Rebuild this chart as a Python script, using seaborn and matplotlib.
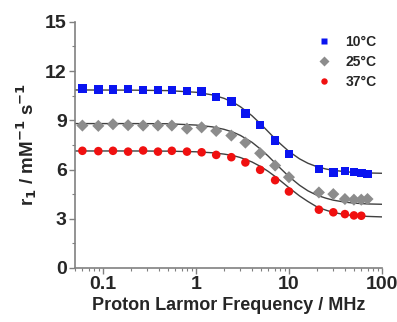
import numpy as np
import pandas as pd
import matplotlib
matplotlib.use("Agg")
import matplotlib.pyplot as plt
import seaborn as sns
from matplotlib.ticker import LogLocator, MultipleLocator, FuncFormatter

# measured frequencies (MHz)
freq_low = [0.06, 0.089, 0.128, 0.186, 0.27, 0.39, 0.55, 0.80, 1.15, 1.65, 2.4, 3.4, 4.9, 7.1, 10.0]
freq_hi_10 = [21, 30, 40, 50, 60, 70]
freq_hi_25 = [21, 30, 40, 50, 60, 70]
freq_hi_37 = [21, 30, 40, 50, 60]

r1_10 = [10.95, 10.89, 10.88, 10.9, 10.85, 10.85, 10.86, 10.78, 10.74, 10.42, 10.14, 9.43, 8.72, 7.76, 6.95,
         6.02, 5.82, 5.92, 5.86, 5.80, 5.72]
r1_25 = [8.68, 8.66, 8.76, 8.70, 8.68, 8.68, 8.68, 8.49, 8.57, 8.35, 8.07, 7.64, 6.99, 6.24, 5.53,
         4.60, 4.50, 4.20, 4.16, 4.16, 4.20]
r1_37 = [7.14, 7.12, 7.14, 7.09, 7.16, 7.09, 7.14, 7.09, 7.05, 6.89, 6.75, 6.43, 5.98, 5.35, 4.66,
         3.55, 3.39, 3.28, 3.20, 3.18]

# fitted curves
fit_freq = [0.05, 0.2, 0.5, 1, 1.5, 2, 2.5, 3, 4, 5, 6, 7, 8, 10, 13, 16, 20, 25, 30, 40, 50, 70, 100]
fit_10 = [10.85, 10.84, 10.81, 10.71, 10.55, 10.34, 10.10, 9.83, 9.28, 8.76, 8.30, 7.91, 7.59, 7.10, 6.65,
          6.38, 6.17, 6.03, 5.95, 5.87, 5.82, 5.79, 5.77]
fit_25 = [8.80, 8.80, 8.79, 8.71, 8.60, 8.45, 8.28, 8.08, 7.66, 7.22, 6.81, 6.43, 6.10, 5.57, 5.04,
          4.70, 4.43, 4.25, 4.13, 4.01, 3.95, 3.90, 3.88]
fit_37 = [7.13, 7.13, 7.12, 7.08, 7.02, 6.94, 6.85, 6.73, 6.46, 6.17, 5.88, 5.60, 5.34, 4.89, 4.39,
          4.05, 3.72, 3.52, 3.38, 3.25, 3.19, 3.14, 3.11]

labels = ["10°C", "25°C", "37°C"]
colors = ["#0a14f0", "#8c8c8c", "#f01010"]
markers = ["s", "D", "o"]

df = pd.concat([
    pd.DataFrame({"f": freq_low + freq_hi_10, "r1": r1_10, "T": labels[0]}),
    pd.DataFrame({"f": freq_low + freq_hi_25, "r1": r1_25, "T": labels[1]}),
    pd.DataFrame({"f": freq_low + freq_hi_37, "r1": r1_37, "T": labels[2]}),
])

sns.set_style("ticks")
plt.rcParams["font.family"] = ["Liberation Sans", "DejaVu Sans"]
plt.rcParams["font.weight"] = "bold"

fig = plt.figure(figsize=(3.97, 3.22), dpi=100)
ax = fig.add_axes([0.189, 0.168, 0.773, 0.764])

for fv in [fit_10, fit_25, fit_37]:
    ax.plot(fit_freq, fv, color="#404040", lw=1.0, zorder=1)

sns.scatterplot(data=df, x="f", y="r1", hue="T", style="T", palette=colors, markers=markers,
                s=38, edgecolor="none", ax=ax, zorder=2)

ax.set_xscale("log")
ax.set_xlim(0.05, 100)
ax.set_ylim(0, 15)
ax.yaxis.set_major_locator(MultipleLocator(3))
ax.yaxis.set_minor_locator(MultipleLocator(1.5))
ax.xaxis.set_major_locator(LogLocator(base=10))
ax.xaxis.set_minor_locator(LogLocator(base=10, subs=np.arange(2, 10)))
ax.xaxis.set_major_formatter(FuncFormatter(lambda v, p: "%g" % v))

for s in ["top", "right"]:
    ax.spines[s].set_visible(False)
for s in ["left", "bottom"]:
    ax.spines[s].set_color("#808080")
    ax.spines[s].set_linewidth(1.2)
ax.tick_params(which="major", length=4, width=1, color="#808080", labelsize=14, pad=2)
ax.tick_params(which="minor", length=2, width=0.8, color="#808080")
for t in ax.get_xticklabels() + ax.get_yticklabels():
    t.set_fontweight("bold")

ax.set_xlabel("Proton Larmor Frequency / MHz", fontsize=13, fontweight="bold", labelpad=3)
ax.set_ylabel("r$_\\mathbf{1}$ / mM$^{\\mathbf{-1}}$ s$^{\\mathbf{-1}}$", fontsize=13.5, fontweight="bold", labelpad=4)

leg = ax.legend(loc="upper right", frameon=False, fontsize=10, handletextpad=0.5, markerscale=0.75,
                labelspacing=0.45, borderaxespad=0.0, bbox_to_anchor=(1.0, 0.97))
for t in leg.get_texts():
    t.set_fontweight("bold")

fig.savefig("out.png", dpi=100)
